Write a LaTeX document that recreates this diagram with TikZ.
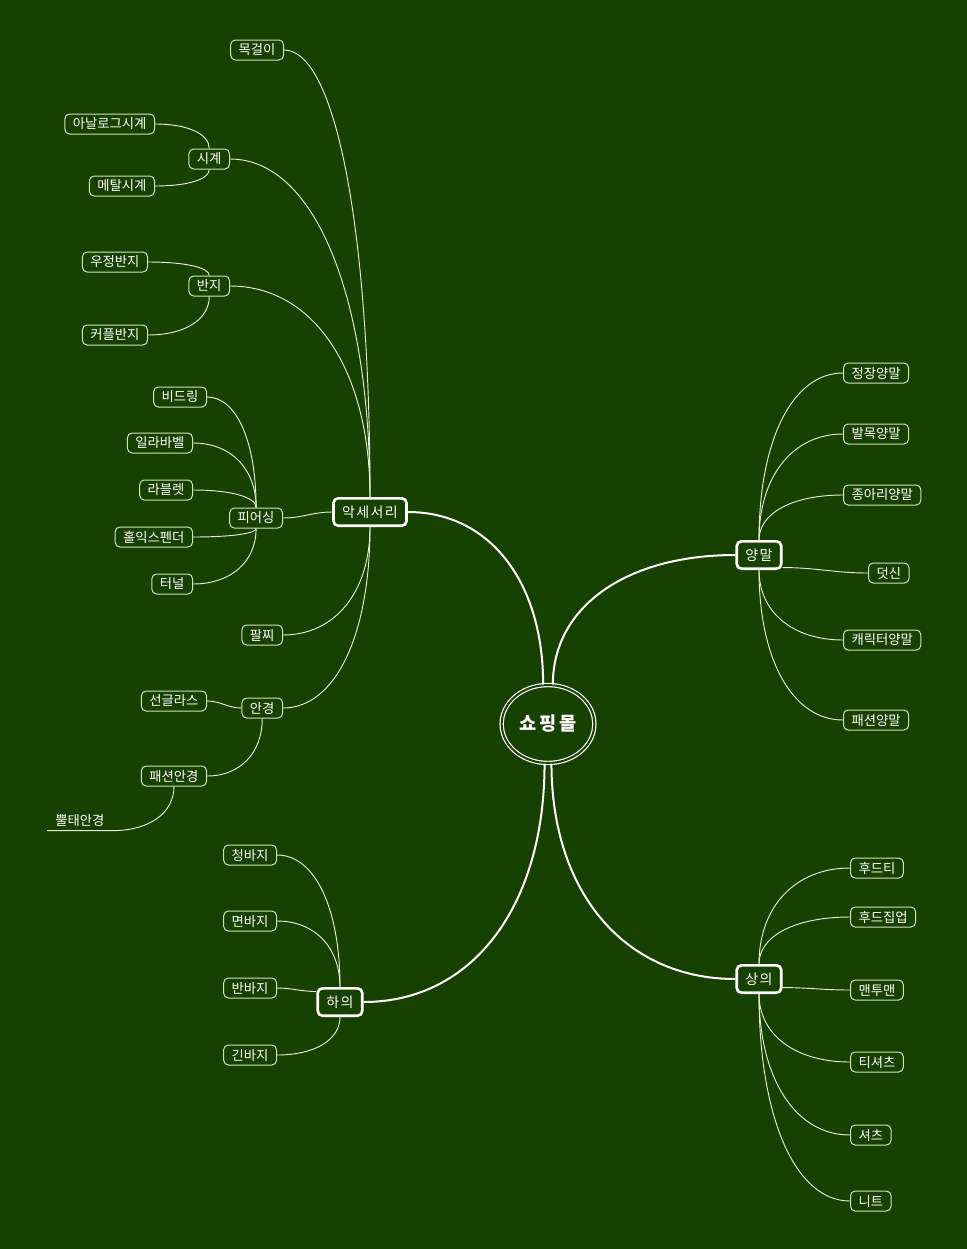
\documentclass[tikz,border=0pt]{standalone}
\usepackage{fontspec}
\setmainfont{Noto Sans CJK KR}
\newfontfamily\lvfont[LetterSpace=10]{Noto Sans CJK KR}
\newfontfamily\ctfont[LetterSpace=14]{Noto Sans CJK KR}
\usetikzlibrary{calc,shapes.geometric}
\definecolor{bg}{HTML}{164100}
\definecolor{leafline}{HTML}{CFE3BD}
\definecolor{edgeline}{HTML}{E4EED8}
\tikzset{
  hv/.style={to path={.. controls ($(\tikztostart)!#1!(\tikztostart -| \tikztotarget)$) and ($(\tikztotarget)!#1!(\tikztostart -| \tikztotarget)$) .. (\tikztotarget)}},
  hv/.default=0.6,
  vh/.style={to path={.. controls ($(\tikztostart)!#1!(\tikztostart |- \tikztotarget)$) and ($(\tikztotarget)!#1!(\tikztostart |- \tikztotarget)$) .. (\tikztotarget)}},
  vh/.default=0.6,
  leaf/.style={draw=leafline, line width=0.75pt, fill=bg, text=white, rounded corners=3.5pt,
    font=\fontsize{10pt}{12pt}\selectfont, inner xsep=6pt, inner ysep=0pt, minimum height=15pt},
  leafL/.style={leaf, anchor=east},
  leafR/.style={leaf, anchor=west},
  lvl/.style={draw=white, line width=2pt, fill=bg, text=white, rounded corners=3.5pt,
    font=\lvfont\fontsize{10.5pt}{12pt}\selectfont, inner xsep=6.5pt, inner ysep=0pt, minimum height=20.5pt},
  ctr/.style={ellipse, draw=white, line width=0.9pt, double=bg, double distance=1.5pt, fill=bg,
    text=white, font=\ctfont\bfseries\fontsize{14pt}{16pt}\selectfont, minimum width=69.5pt, minimum height=58.5pt, inner sep=0pt},
  plain/.style={text=white, font=\fontsize{10pt}{12pt}\selectfont, anchor=west, inner xsep=6pt, inner ysep=0pt, minimum height=15.5pt},
  thinedge/.style={draw=edgeline, line width=0.7pt},
  thickedge/.style={draw=white, line width=1.5pt},
}
\begin{document}
\begin{tikzpicture}[x=0.75pt,y=0.75pt]
\fill[bg] (0,0) rectangle (967,-1249);
\useasboundingbox (0,0) rectangle (967,-1249);

% centre and main branches
\node[ctr] (c) at (548,-724) {쇼핑몰};
\node[lvl] (acc) at (370,-512) {악세서리};
\node[lvl] (yang) at (759,-555) {양말};
\node[lvl] (sang) at (759,-979) {상의};
\node[lvl] (ha) at (340,-1002) {하의};

% accessory branch
\node[leafL] (mok) at (284,-50) {목걸이};
\node[leafL] (sig) at (230,-159) {시계};
\node[leafL] (ban) at (230,-286) {반지};
\node[leafL] (pi) at (283,-518) {피어싱};
\node[leafL] (pal) at (283,-635) {팔찌};
\node[leafL] (an) at (283,-708) {안경};
\node[leafL] (anal) at (155,-124) {아날로그시계};
\node[leafL] (metal) at (155,-186) {메탈시계};
\node[leafL] (ujeong) at (148,-262) {우정반지};
\node[leafL] (couple) at (148,-335) {커플반지};
\node[leafL] (bead) at (207,-397) {비드링};
\node[leafL] (ila) at (193,-443) {일라바벨};
\node[leafL] (labl) at (193,-490) {라블렛};
\node[leafL] (hol) at (193,-537) {홀익스펜더};
\node[leafL] (tun) at (193,-584) {터널};
\node[leafL] (sun) at (207,-701) {선글라스};
\node[leafL] (fan) at (207,-776) {패션안경};
\node[plain] (ppul) at (47,-820) {뿔태안경};

% socks branch
\node[leafR] (jj) at (843,-373) {정장양말};
\node[leafR] (bal) at (843,-434) {발목양말};
\node[leafR] (jong) at (843,-495) {종아리양말};
\node[leafR] (deot) at (868,-573) {덧신};
\node[leafR] (char) at (843,-640) {캐릭터양말};
\node[leafR] (fy) at (843,-720) {패션양말};

% tops branch
\node[leafR] (hood) at (850,-868) {후드티};
\node[leafR] (hz) at (850,-917) {후드집업};
\node[leafR] (mtm) at (850,-990) {맨투맨};
\node[leafR] (ts) at (850,-1062) {티셔츠};
\node[leafR] (shirt) at (850,-1135) {셔츠};
\node[leafR] (knit) at (850,-1201) {니트};

% bottoms branch
\node[leafL] (cheong) at (277,-855) {청바지};
\node[leafL] (myeon) at (277,-921) {면바지};
\node[leafL] (banbaji) at (277,-988) {반바지};
\node[leafL] (gin) at (277,-1055) {긴바지};

% thick connectors
\draw[thickedge] (c.97) to[vh] (acc.east);
\draw[thickedge] (c.83) to[vh] (yang.west);
\draw[thickedge] (c.-95) to[vh] (ha.east);
\draw[thickedge] (c.-85) to[vh] (sang.west);

% thin connectors
\begin{scope}[thinedge]
\draw (mok.east) to[hv] (acc.north);
\draw (sig.east) to[hv] (acc.north);
\draw (ban.east) to[hv] (acc.north);
\draw (pi.east) to[out=0,in=180] (acc.west);
\draw (pal.east) to[hv] (acc.south);
\draw (an.east) to[hv] (acc.south);
\draw (anal.east) to[hv] (sig.north);
\draw (metal.east) to[hv] (sig.south);
\draw (ujeong.east) to[hv] (ban.north);
\draw (couple.east) to[hv] (ban.south);
\draw (bead.east) to[hv] (pi.north);
\draw (ila.east) to[hv] (pi.north);
\draw (labl.east) to[hv] (pi.north);
\draw (hol.east) to[hv] (pi.south);
\draw (tun.east) to[hv] (pi.south);
\draw (sun.east) to[out=0,in=180] (an.west);
\draw (fan.east) to[hv] (an.south);
\draw (ppul.south west) -- (ppul.south east) to[hv] (fan.south);

\draw (yang.north) to[vh] (jj.west);
\draw (yang.north) to[vh] (bal.west);
\draw (yang.north) to[vh] (jong.west);
\draw (yang.-28) to[out=0,in=180] (deot.west);
\draw (yang.south) to[vh] (char.west);
\draw (yang.south) to[vh] (fy.west);

\draw (sang.north) to[vh] (hood.west);
\draw (sang.north) to[vh] (hz.west);
\draw (sang.-20) to[out=0,in=180] (mtm.west);
\draw (sang.south) to[vh] (ts.west);
\draw (sang.south) to[vh] (shirt.west);
\draw (sang.south) to[vh] (knit.west);

\draw (cheong.east) to[hv] (ha.north);
\draw (myeon.east) to[hv] (ha.north);
\draw (banbaji.east) to[out=0,in=180] (ha.156);
\draw (gin.east) to[hv] (ha.south);
\end{scope}
\end{tikzpicture}
\end{document}
